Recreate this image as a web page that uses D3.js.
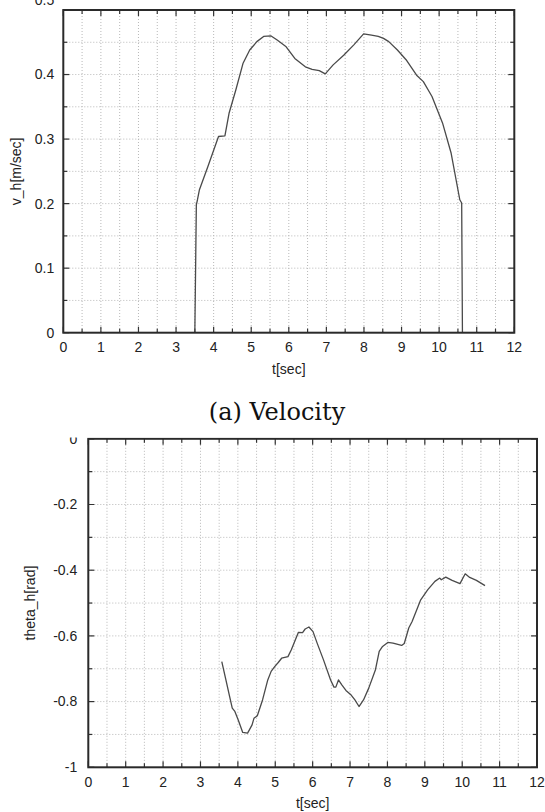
<!DOCTYPE html>
<html>
<head>
<meta charset="utf-8">
<script src="https://cdn.jsdelivr.net/npm/d3@7"></script>
<style>
  body { margin: 0; background: #fff; }
  svg { display: block; }
  .tick-label { font-family: "Liberation Sans", Arial, sans-serif; font-size: 14px; fill: #222; }
</style>
</head>
<body>
<div id="fig"></div>
<script>
// velocity panel (a)
var velT = [3.50, 3.54, 3.57, 3.62, 3.85, 4.13, 4.30, 4.41, 4.59, 4.78, 4.96, 5.15, 5.33, 5.52, 5.70,
            5.93, 6.16, 6.44, 6.62, 6.81, 6.97, 7.18, 7.46, 7.73, 7.99, 8.20, 8.38, 8.52, 8.66,
            8.89, 9.12, 9.40, 9.58, 9.81, 10.09, 10.32, 10.55, 10.60, 10.62];
var velV = [0.000, 0.198, 0.206, 0.221, 0.258, 0.304, 0.305, 0.340, 0.376, 0.417, 0.438, 0.451, 0.459, 0.460, 0.453,
            0.443, 0.425, 0.412, 0.408, 0.406, 0.401, 0.415, 0.430, 0.446, 0.463, 0.461, 0.459, 0.456, 0.451,
            0.438, 0.423, 0.399, 0.389, 0.366, 0.325, 0.278, 0.206, 0.201, 0.000];

// heading angle panel
var thT = [3.57, 3.68, 3.78, 3.85, 3.92, 4.01, 4.13, 4.26, 4.38, 4.43, 4.52, 4.66, 4.80, 4.89, 4.99,
           5.08, 5.17, 5.34, 5.43, 5.62, 5.73, 5.80, 5.90, 6.01, 6.12, 6.29, 6.48, 6.57, 6.62,
           6.69, 6.78, 6.89, 7.03, 7.13, 7.24, 7.36, 7.50, 7.68, 7.78, 7.87, 8.01, 8.15, 8.38,
           8.45, 8.57, 8.66, 8.75, 8.89, 9.08, 9.27, 9.40, 9.44, 9.56, 9.73, 9.94, 10.08, 10.20,
           10.38, 10.61];
var thV = [-0.678, -0.734, -0.785, -0.820, -0.830, -0.856, -0.894, -0.896, -0.871, -0.851, -0.843, -0.795, -0.734, -0.708, -0.693,
           -0.681, -0.668, -0.663, -0.642, -0.589, -0.590, -0.579, -0.573, -0.587, -0.622, -0.673, -0.734, -0.756, -0.756,
           -0.734, -0.749, -0.766, -0.780, -0.795, -0.815, -0.795, -0.759, -0.703, -0.647, -0.632, -0.620, -0.622, -0.629,
           -0.623, -0.576, -0.556, -0.530, -0.490, -0.459, -0.434, -0.424, -0.429, -0.421, -0.431, -0.441, -0.411, -0.422,
           -0.431, -0.447];

var xTicks = [0, 1, 2, 3, 4, 5, 6, 7, 8, 9, 10, 11, 12];
var velTicks = [0, 0.1, 0.2, 0.3, 0.4, 0.5];
var thTicks = [-1, -0.8, -0.6, -0.4, -0.2, 0];

var W = 545, H = 812;
var svg = d3.select("#fig").append("svg")
    .attr("width", W)
    .attr("height", H);

// source image is cropped just above the lower plot
svg.append("clipPath").attr("id", "cropLow")
    .append("rect").attr("x", 0).attr("y", 437.5).attr("width", W).attr("height", H - 437.5);

function panel(cfg) {
    var g = svg.append("g")
        .attr("clip-path", cfg.clip ? "url(#" + cfg.clip + ")" : null);
    var inner = g.append("g")
        .attr("transform", "translate(" + cfg.left + "," + cfg.top + ")");

    var x = d3.scaleLinear().domain([0, 12]).range([0, cfg.width]);
    var y = d3.scaleLinear().domain(cfg.yDomain).range([cfg.height, 0]);

    // dotted grid
    var xg = d3.range(0.5, 12, 0.5);
    inner.selectAll(".gx").data(xg).enter().append("line")
        .attr("x1", function(d) { return x(d); })
        .attr("x2", function(d) { return x(d); })
        .attr("y1", 0).attr("y2", cfg.height)
        .attr("stroke", "#b8b8b8").attr("stroke-width", 1)
        .attr("stroke-dasharray", "1,2");
    inner.selectAll(".gy").data(cfg.yGrid).enter().append("line")
        .attr("x1", 0).attr("x2", cfg.width)
        .attr("y1", function(d) { return y(d); })
        .attr("y2", function(d) { return y(d); })
        .attr("stroke", "#b8b8b8").attr("stroke-width", 1)
        .attr("stroke-dasharray", "1,2");

    // ticks on all four sides
    var xt = d3.range(0, 12.01, 0.5);
    xt.forEach(function(d) {
        var len = (Math.abs(d - Math.round(d)) < 1e-6) ? 6 : 4;
        inner.append("line").attr("x1", x(d)).attr("x2", x(d))
            .attr("y1", cfg.height).attr("y2", cfg.height - len)
            .attr("stroke", "#333").attr("stroke-width", 1.2);
        inner.append("line").attr("x1", x(d)).attr("x2", x(d))
            .attr("y1", 0).attr("y2", len)
            .attr("stroke", "#333").attr("stroke-width", 1.2);
    });
    cfg.yTickMarks.forEach(function(d) {
        var major = cfg.yTicks.some(function(t) { return Math.abs(t - d) < 1e-6; });
        var len = major ? 6 : 4;
        inner.append("line").attr("x1", 0).attr("x2", len)
            .attr("y1", y(d)).attr("y2", y(d))
            .attr("stroke", "#333").attr("stroke-width", 1.2);
        inner.append("line").attr("x1", cfg.width).attr("x2", cfg.width - len)
            .attr("y1", y(d)).attr("y2", y(d))
            .attr("stroke", "#333").attr("stroke-width", 1.2);
    });

    // data line
    var pts = cfg.xs.map(function(t, i) { return [t, cfg.ys[i]]; });
    inner.append("path")
        .datum(pts)
        .attr("d", d3.line().x(function(d) { return x(d[0]); }).y(function(d) { return y(d[1]); }))
        .attr("fill", "none")
        .attr("stroke", "#4a4a4a")
        .attr("stroke-width", 1.3)
        .attr("stroke-linejoin", "round");

    // frame
    inner.append("rect")
        .attr("width", cfg.width).attr("height", cfg.height)
        .attr("fill", "none").attr("stroke", "#2a2a2a").attr("stroke-width", 2);

    // tick labels
    inner.selectAll(".xl").data(xTicks).enter().append("text")
        .attr("class", "tick-label")
        .attr("x", function(d) { return x(d); })
        .attr("y", cfg.height + 19.5)
        .attr("text-anchor", "middle")
        .text(function(d) { return d; });
    inner.selectAll(".yl").data(cfg.yTicks).enter().append("text")
        .attr("class", "tick-label")
        .attr("x", -cfg.labelGap)
        .attr("y", function(d) { return y(d) + (d === cfg.cutLabel ? cfg.cutShift : 0); })
        .attr("dy", "0.35em")
        .attr("text-anchor", "end")
        .text(function(d) { return d; });

    // axis titles
    inner.append("text")
        .attr("class", "tick-label")
        .attr("x", cfg.width / 2)
        .attr("y", cfg.height + 41)
        .attr("text-anchor", "middle")
        .text("t[sec]");
    inner.append("text")
        .attr("class", "tick-label")
        .attr("transform", "translate(" + cfg.yTitleX + "," + (cfg.height / 2) + ") rotate(-90)")
        .attr("text-anchor", "middle")
        .text(cfg.yTitle);
}

panel({
    left: 63.3, top: 10, width: 451, height: 322.7,
    yDomain: [0, 0.5],
    yTicks: velTicks,
    yTickMarks: d3.range(0, 0.501, 0.05),
    yGrid: d3.range(0.05, 0.5, 0.05),
    xs: velT, ys: velV,
    labelGap: 9,
    cutLabel: 0.5, cutShift: -10,
    yTitle: "v_h[m/sec]", yTitleX: -42
});

panel({
    left: 88.3, top: 438.8, width: 448.7, height: 328.5,
    clip: "cropLow",
    yDomain: [-1, 0],
    yTicks: thTicks,
    yTickMarks: d3.range(-1, 0.001, 0.1),
    yGrid: d3.range(-0.9, -0.01, 0.1),
    xs: thT, ys: thV,
    labelGap: 11,
    cutLabel: 0, cutShift: 0,
    yTitle: "theta_h[rad]", yTitleX: -53
});

// caption of panel (a)
svg.append("text")
    .attr("x", 277)
    .attr("y", 420)
    .attr("text-anchor", "middle")
    .style("font-family", "'DejaVu Serif', 'Liberation Serif', serif")
    .style("font-size", "24px")
    .style("fill", "#111")
    .text("(a) Velocity");
</script>
</body>
</html>
